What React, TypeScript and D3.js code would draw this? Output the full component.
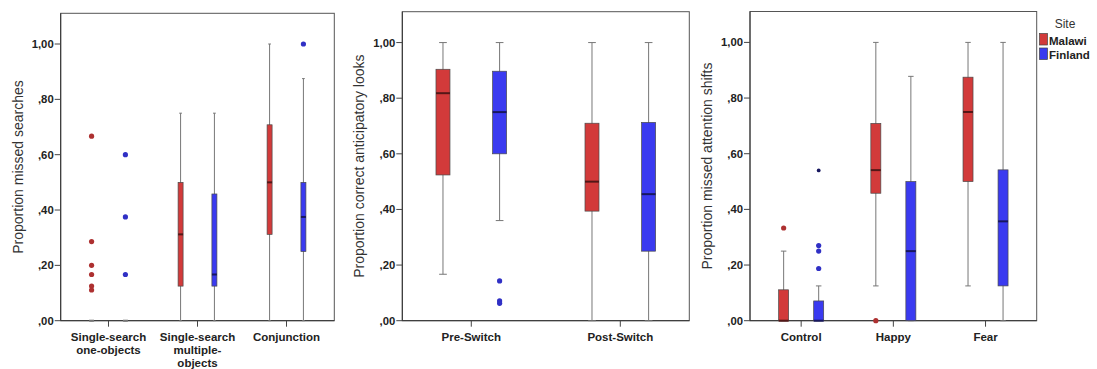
import React from "react";
import * as d3 from "d3";

type Stat = { lo: number; q1: number; med: number; q3: number; hi: number; out: number[]; ext?: number[] };

const sites = ["Malawi", "Finland"];
const siteColors = ["#d23a3a", "#3a3af0"];
const yTicks = [0, 0.2, 0.4, 0.6, 0.8, 1.0];

// Panel 1: missed searches
const searchCategories = [["Single-search", "one-objects"], ["Single-search", "multiple-", "objects"], ["Conjunction"]];
const searchMalawi: Stat[] = [
  { lo: 0, q1: 0, med: 0, q3: 0, hi: 0, out: [0.667, 0.286, 0.2, 0.167, 0.125, 0.111] },
  { lo: 0, q1: 0.125, med: 0.312, q3: 0.5, hi: 0.75, out: [] },
  { lo: 0, q1: 0.312, med: 0.5, q3: 0.708, hi: 1.0, out: [] },
];
const searchFinland: Stat[] = [
  { lo: 0, q1: 0, med: 0, q3: 0, hi: 0, out: [0.6, 0.375, 0.167] },
  { lo: 0, q1: 0.125, med: 0.167, q3: 0.458, hi: 0.75, out: [] },
  { lo: 0, q1: 0.25, med: 0.375, q3: 0.5, hi: 0.875, out: [1.0] },
];

// Panel 2: anticipatory looks
const switchCategories = [["Pre-Switch"], ["Post-Switch"]];
const switchMalawi: Stat[] = [
  { lo: 0.167, q1: 0.524, med: 0.818, q3: 0.904, hi: 1.0, out: [] },
  { lo: 0, q1: 0.394, med: 0.5, q3: 0.71, hi: 1.0, out: [] },
];
const switchFinland: Stat[] = [
  { lo: 0.36, q1: 0.6, med: 0.75, q3: 0.897, hi: 1.0, out: [0.143, 0.071, 0.0625] },
  { lo: 0, q1: 0.25, med: 0.455, q3: 0.713, hi: 1.0, out: [] },
];

// Panel 3: attention shifts
const emotionCategories = [["Control"], ["Happy"], ["Fear"]];
const emotionMalawi: Stat[] = [
  { lo: 0, q1: 0, med: 0, q3: 0.111, hi: 0.25, out: [0.333] },
  { lo: 0.125, q1: 0.458, med: 0.541, q3: 0.709, hi: 1.0, out: [0] },
  { lo: 0.125, q1: 0.5, med: 0.75, q3: 0.875, hi: 1.0, out: [] },
];
const emotionFinland: Stat[] = [
  { lo: 0, q1: 0, med: 0, q3: 0.071, hi: 0.125, out: [0.27, 0.25, 0.1875], ext: [0.54] },
  { lo: 0, q1: 0, med: 0.25, q3: 0.5, hi: 0.878, out: [] },
  { lo: 0, q1: 0.125, med: 0.357, q3: 0.542, hi: 1.0, out: [] },
];

const panels = [
  { left: 60.7, right: 334.3, top: 13.3, pad: 0.537, boxW: 5, label: "Proportion missed searches", cats: searchCategories, data: [searchMalawi, searchFinland] },
  { left: 402.3, right: 689.3, top: 11.7, pad: 0.463, boxW: 14, label: "Proportion correct anticipatory looks", cats: switchCategories, data: [switchMalawi, switchFinland] },
  { left: 750, right: 1036.7, top: 11.5, pad: 0.555, boxW: 10, label: "Proportion missed attention shifts", cats: emotionCategories, data: [emotionMalawi, emotionFinland] },
];

const BOTTOM = 320.7;
const FONT = "'Liberation Sans', Arial, sans-serif";
const fmt = (v: number) => {
  const s = v.toFixed(2).replace(".", ",");
  return s.startsWith("0") ? s.slice(1) : s;
};

function Panel({ p }: { p: (typeof panels)[number] }) {
  const y = d3.scaleLinear().domain([0, 1.111]).range([BOTTOM, p.top]);
  const catKeys = p.cats.map((c) => c.join(" "));
  const x = d3.scalePoint<string>().domain(catKeys).range([p.left, p.right]).padding(p.pad);
  const step = x.step();
  const sx = d3.scalePoint<string>().domain(sites).range([-0.19 * step, 0.19 * step]);
  const bw = p.boxW;
  return (
    <g>
      <rect x={p.left} y={p.top} width={p.right - p.left} height={BOTTOM - p.top} fill="none" stroke="#555" strokeWidth={1} />
      <line x1={p.left} x2={p.right} y1={BOTTOM} y2={BOTTOM} stroke="#333" />
      <line x1={p.left} x2={p.left} y1={p.top} y2={BOTTOM} stroke="#333" />
      {yTicks.map((t) => (
        <g key={t}>
          <line x1={p.left - 6} x2={p.left} y1={y(t)} y2={y(t)} stroke="#444" />
          <text x={p.left - 7} y={y(t) + 4} textAnchor="end" fontFamily={FONT} fontWeight="bold" fontSize={11.3} fill="#222">
            {fmt(t)}
          </text>
        </g>
      ))}
      <text
        transform={`translate(${p.left - 38},${(p.top + BOTTOM) / 2}) rotate(-90)`}
        textAnchor="middle"
        fontFamily={FONT}
        fontSize={14}
        fill="#333"
      >
        {p.label}
      </text>
      {p.cats.map((lines, ci) => {
        const cx = x(catKeys[ci])!;
        return (
          <g key={ci}>
            <line x1={cx} x2={cx} y1={BOTTOM} y2={BOTTOM + 6} stroke="#444" />
            {lines.map((ln, li) => (
              <text key={li} x={cx} y={340.5 + li * 13} textAnchor="middle" fontFamily={FONT} fontWeight="bold" fontSize={11.5} fill="#222">
                {ln}
              </text>
            ))}
            {sites.map((s, si) => {
              const d = p.data[si][ci];
              const bx = cx + sx(s)!;
              const col = siteColors[si];
              const dark = d3.color(col)!.darker(2.6).formatHex();
              const ptCol = d3.color(col)!.darker(0.55).formatHex();
              const capW = bw * 0.55;
              return (
                <g key={s}>
                  <line x1={bx} x2={bx} y1={y(d.lo)} y2={y(d.hi)} stroke="#777" strokeWidth={1} />
                  <line x1={bx - capW / 2} x2={bx + capW / 2} y1={y(d.hi)} y2={y(d.hi)} stroke="#777" />
                  <line x1={bx - capW / 2} x2={bx + capW / 2} y1={y(d.lo)} y2={y(d.lo)} stroke="#777" />
                  {d.q3 > d.q1 && (
                    <rect x={bx - bw / 2} y={y(d.q3)} width={bw} height={y(d.q1) - y(d.q3)} fill={col} stroke="#4a4a4a" strokeWidth={0.7} />
                  )}
                  <line x1={bx - bw / 2} x2={bx + bw / 2} y1={y(d.med)} y2={y(d.med)} stroke={d.q3 > d.q1 ? dark : "#777"} strokeWidth={2} />
                  {d.out.map((o, oi) => (
                    <circle key={oi} cx={bx} cy={y(o)} r={2.6} fill={ptCol} />
                  ))}
                  {(d.ext || []).map((o, oi) => (
                    <circle key={"e" + oi} cx={bx} cy={y(o)} r={1.9} fill={dark} />
                  ))}
                </g>
              );
            })}
          </g>
        );
      })}
    </g>
  );
}

export default function App() {
  return (
    <svg width={1097} height={369} style={{ position: "absolute", left: 0, top: 0, background: "#fff" }}>
      <rect width={1097} height={369} fill="#fff" />
      {panels.map((p, i) => (
        <Panel key={i} p={p} />
      ))}
      <g>
        <text x={1065} y={28} textAnchor="middle" fontFamily={FONT} fontSize={12} fill="#333">
          Site
        </text>
        {sites.map((s, i) => (
          <g key={s}>
            <rect x={1039.5} y={33.5 + i * 14.5} width={8} height={11.5} fill={siteColors[i]} stroke="#444" strokeWidth={0.7} />
            <text x={1049} y={44.5 + i * 14.5} fontFamily={FONT} fontWeight="bold" fontSize={11.5} fill="#222">
              {s}
            </text>
          </g>
        ))}
      </g>
    </svg>
  );
}
